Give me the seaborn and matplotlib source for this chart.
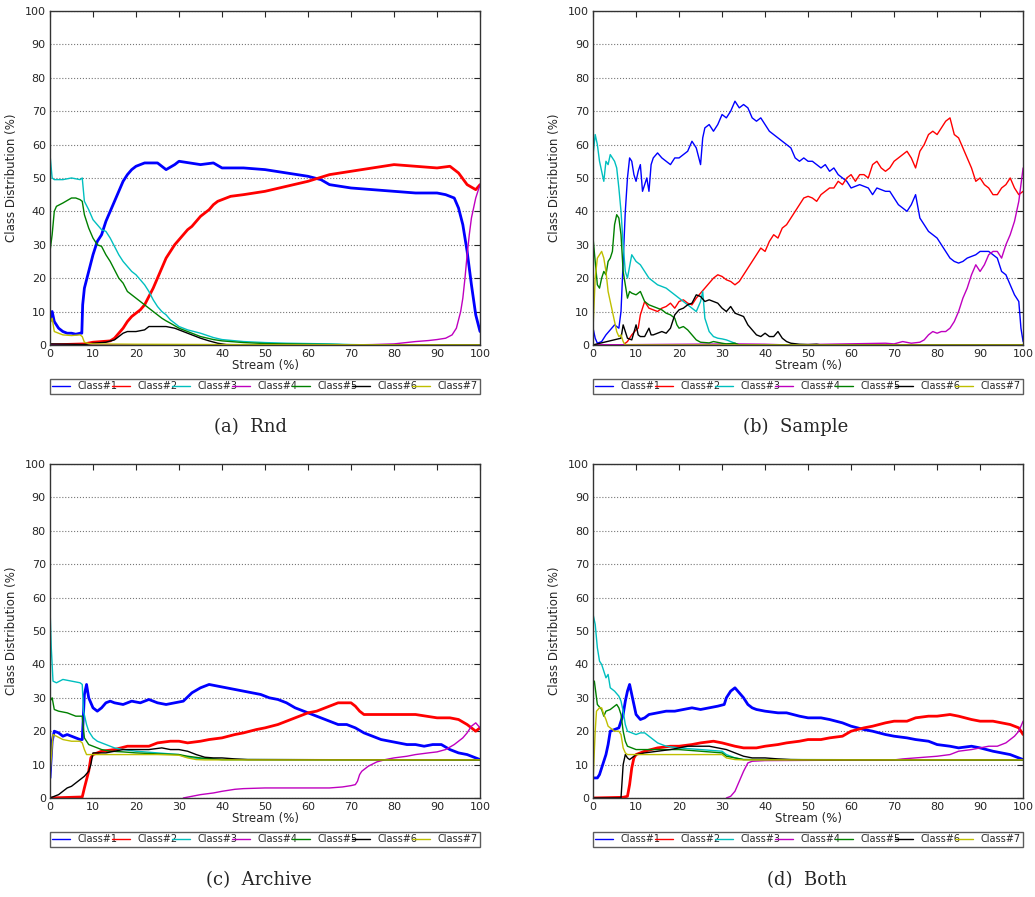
import matplotlib
matplotlib.use("Agg")
import matplotlib.pyplot as plt
import seaborn as sns

# ---- data: (stream %, class distribution %) ----
classes = ["Class#1", "Class#2", "Class#3", "Class#4", "Class#5", "Class#6", "Class#7"]
colors = ["#0000ff", "#ff0000", "#00bfbf", "#bf00bf", "#008000", "#000000", "#bfbf00"]

# (a) Rnd
rnd_c1 = [(0, 7), (0.5, 10), (1, 7), (2, 5), (3, 4), (4, 3.5), (5, 3.5), (6, 3.2), (7, 3.5), (7.4, 3.5),
          (7.6, 12), (8, 17), (9, 22), (10, 27), (11, 31), (12, 33), (13, 37), (14, 40), (15, 43), (16, 46),
          (17, 49), (18, 51), (19, 52.5), (20, 53.5), (22, 54.5), (25, 54.5), (27, 52.5), (29, 54), (30, 55),
          (35, 54), (38, 54.5), (40, 53), (45, 53), (50, 52.5), (55, 51.5), (60, 50.5), (63, 49.5), (65, 48),
          (70, 47), (75, 46.5), (80, 46), (85, 45.5), (90, 45.5), (92, 45), (94, 44), (95, 41), (96, 36),
          (97, 28), (98, 18), (99, 9), (100, 4)]
rnd_c2 = [(0, 0), (8, 0.3), (10, 0.8), (12, 1), (14, 1.2), (15, 2), (16, 3.5), (17, 5), (18, 7), (19, 8.5),
          (20, 9.5), (21, 10.5), (22, 12), (23, 14.5), (24, 17), (25, 20), (26, 23), (27, 26), (28, 28),
          (29, 30), (30, 31.5), (31, 33), (32, 34.5), (33, 35.5), (34, 37), (35, 38.5), (36, 39.5), (37, 40.5),
          (38, 42), (39, 43), (40, 43.5), (42, 44.5), (45, 45), (50, 46), (55, 47.5), (60, 49), (65, 51),
          (70, 52), (75, 53), (80, 54), (85, 53.5), (90, 53), (93, 53.5), (95, 51.5), (97, 48), (99, 46.5),
          (100, 48)]
rnd_c3 = [(0, 57), (0.5, 50), (1, 49.5), (3, 49.5), (5, 50), (7, 49.5), (7.5, 50), (8, 43), (9, 40.5),
          (10, 37.5), (11, 36), (12, 34.5), (13, 34), (14, 32), (15, 29.5), (16, 27), (17, 25), (18, 23.5),
          (19, 22), (20, 21), (21, 19.5), (22, 18), (23, 16), (24, 13.5), (25, 11.5), (26, 10), (27, 9),
          (28, 7.5), (29, 6.5), (30, 5.5), (32, 4.5), (35, 3.5), (38, 2.2), (40, 1.6), (45, 1.0), (50, 0.7),
          (55, 0.5), (60, 0.4), (65, 0.3), (70, 0.1), (75, 0), (100, 0)]
rnd_c4 = [(0, 0), (70, 0), (75, 0.1), (80, 0.3), (85, 1), (88, 1.3), (90, 1.6), (92, 2), (93.5, 3), (94.5, 5),
          (95.5, 10), (96, 14), (96.5, 20), (97, 27), (97.5, 33), (98, 38), (99, 44), (99.5, 46), (100, 48)]
rnd_c5 = [(0, 28), (0.5, 33), (1, 40), (1.5, 41.5), (3, 42.5), (5, 44), (6, 44), (7, 43.5), (7.5, 43),
          (8, 39), (9, 35), (10, 32), (11, 30), (12, 29.5), (13, 27), (14, 25), (15, 22.5), (16, 20),
          (17, 18.5), (18, 16), (19, 15), (20, 14), (21, 13), (22, 12), (23, 11), (24, 10), (25, 9), (26, 8),
          (27, 7.2), (28, 6.5), (30, 5), (32, 4), (35, 2.5), (38, 1.6), (40, 1.2), (45, 0.7), (50, 0.4),
          (60, 0.2), (67, 0.1), (70, 0), (100, 0)]
rnd_c6 = [(0, 0.3), (5, 0.2), (8, 0.1), (10, 0.5), (13, 0.8), (15, 1.5), (16, 2.5), (17, 3.5), (18, 4),
          (20, 4), (22, 4.5), (23, 5.5), (25, 5.5), (27, 5.5), (29, 5), (31, 4), (33, 3), (35, 2), (37, 1.2),
          (39, 0.5), (41, 0.1), (45, 0), (100, 0)]
rnd_c7 = [(0, 6.5), (0.5, 8), (1, 4), (2, 3.5), (3, 3), (5, 2.8), (7, 3), (7.5, 2.5), (8, 0.8), (9, 0.4),
          (10, 0.3), (20, 0.2), (40, 0.1), (100, 0)]

# (b) Sample
smp_c1 = [(0, 5), (0.5, 2), (1, 0.5), (2, 1), (3, 3), (4, 4.5), (5, 6), (6, 5), (6.5, 10), (7, 25), (7.5, 40),
          (8, 50), (8.5, 56), (9, 55), (9.5, 51), (10, 49), (10.5, 52), (11, 54), (11.5, 46), (12, 48),
          (12.5, 50), (13, 46), (13.5, 54), (14, 56), (15, 57.5), (16, 56), (17, 55), (18, 54), (19, 56),
          (20, 56), (21, 57), (22, 58), (23, 61), (24, 59), (25, 54), (25.5, 62), (26, 65), (27, 66), (28, 64),
          (29, 66), (30, 69), (31, 68), (32, 70), (33, 73), (34, 71), (35, 72), (36, 71), (37, 68), (38, 67),
          (39, 68), (40, 66), (41, 64), (42, 63), (43, 62), (44, 61), (45, 60), (46, 59), (47, 56), (48, 55),
          (49, 56), (50, 55), (51, 55), (52, 54), (53, 53), (54, 54), (55, 52), (56, 53), (57, 51), (58, 50),
          (59, 49), (60, 47), (62, 48), (64, 47), (65, 45), (66, 47), (68, 46), (69, 46), (70, 44), (71, 42),
          (72, 41), (73, 40), (74, 42), (75, 45), (76, 38), (77, 36), (78, 34), (79, 33), (80, 32), (81, 30),
          (82, 28), (83, 26), (84, 25), (85, 24.5), (86, 25), (87, 26), (88, 26.5), (89, 27), (90, 28),
          (91, 28), (92, 28), (93, 27), (94, 26), (95, 22), (96, 21), (97, 18), (98, 15), (99, 13), (99.5, 5),
          (100, 1)]
smp_c2 = [(0, 0), (7, 0), (8, 1), (9, 3), (10, 4.5), (10.5, 5), (11, 9), (12, 13), (13, 11), (14, 10.5),
          (15, 10), (16, 11), (17, 11.5), (18, 12.5), (19, 11), (20, 13), (21, 13.5), (22, 12.5), (23, 12),
          (24, 14), (25, 15.5), (26, 17), (27, 18.5), (28, 20), (29, 21), (30, 20.5), (31, 19.5), (32, 19),
          (33, 18), (34, 19), (35, 21), (36, 23), (37, 25), (38, 27), (39, 29), (40, 28), (41, 31), (42, 33),
          (43, 32), (44, 35), (45, 36), (46, 38), (47, 40), (48, 42), (49, 44), (50, 44.5), (51, 44), (52, 43),
          (53, 45), (54, 46), (55, 47), (56, 47), (57, 49), (58, 48), (59, 50), (60, 51), (61, 49), (62, 51),
          (63, 51), (64, 50), (65, 54), (66, 55), (67, 53), (68, 52), (69, 53), (70, 55), (71, 56), (72, 57),
          (73, 58), (74, 56), (75, 53), (76, 58), (77, 60), (78, 63), (79, 64), (80, 63), (81, 65), (82, 67),
          (83, 68), (84, 63), (85, 62), (86, 59), (87, 56), (88, 53), (89, 49), (90, 50), (91, 48), (92, 47),
          (93, 45), (94, 45), (95, 47), (96, 48), (97, 50), (98, 47), (99, 45), (100, 46)]
smp_c3 = [(0, 57), (0.5, 63), (1, 60), (1.5, 55), (2, 52), (2.5, 49), (3, 55), (3.5, 54), (4, 57), (5, 55),
          (5.5, 53), (6, 47), (6.5, 40), (7, 30), (7.5, 22), (8, 20), (9, 27), (10, 25), (11, 24), (12, 22),
          (13, 20), (14, 19), (15, 18), (16, 17.5), (17, 17), (18, 16), (19, 15), (20, 14), (21, 13), (22, 12),
          (23, 11), (24, 10), (25, 13), (25.5, 16), (26, 8), (27, 4), (28, 2.5), (29, 2), (30, 1.8), (31, 1.5),
          (32, 1), (33, 0.5), (34, 0), (100, 0)]
smp_c4 = [(0, 0), (33, 0.3), (40, 0.2), (45, 0), (68, 0.5), (70, 0.3), (72, 1), (74, 0.5), (76, 0.8),
          (77, 1.5), (78, 3), (79, 4), (80, 3.5), (81, 4), (82, 4), (83, 5), (84, 7), (85, 10), (86, 14),
          (87, 17), (88, 21), (89, 24), (90, 22), (91, 24), (92, 27), (93, 28), (94, 28), (95, 26), (96, 30),
          (97, 33), (98, 37), (99, 43), (100, 53)]
smp_c5 = [(0, 32), (0.5, 25), (1, 18), (1.5, 17), (2, 20), (2.5, 22), (3, 21), (3.5, 25), (4, 26), (4.5, 28),
          (5, 36), (5.5, 39), (6, 38), (6.5, 33), (7, 22), (7.5, 18), (8, 14), (8.5, 16), (9, 15.5), (10, 15),
          (11, 16), (12, 13), (13, 12), (14, 11.5), (15, 11), (16, 10.5), (17, 9.5), (18, 9), (19, 8),
          (19.5, 6), (20, 5), (21, 5.5), (22, 4.5), (23, 3), (24, 1.5), (25, 0.8), (27, 0.6), (28, 1),
          (30, 0.5), (31, 0.3), (33, 0.5), (34, 0), (100, 0)]
smp_c6 = [(0, 0), (6.5, 2), (7, 6), (7.5, 4), (8, 2), (9, 1.5), (10, 6), (10.5, 3), (11, 2.5), (12, 2.5),
          (13, 5), (13.5, 3), (14, 3), (15, 3.5), (16, 4), (17, 3.5), (18, 5), (19, 9), (20, 10.5), (21, 11),
          (22, 12), (23, 12.5), (24, 15), (25, 14.5), (26, 13), (27, 13.5), (28, 13), (29, 12.5), (30, 11),
          (31, 10), (32, 11.5), (33, 9.5), (34, 9), (35, 8.5), (36, 6), (37, 4.5), (38, 3), (39, 2.5),
          (40, 3.5), (41, 2.5), (42, 2.5), (43, 4), (44, 2), (45, 1), (46, 0.5), (48, 0.2), (50, 0.1),
          (52, 0.2), (53, 0), (100, 0)]
smp_c7 = [(0, 5), (0.5, 20), (1, 26), (1.5, 27), (2, 28), (2.5, 26), (3, 22), (3.5, 16), (4, 13), (4.5, 10),
          (5, 7), (5.5, 4), (6, 2.5), (6.5, 3), (7, 1), (7.5, 0), (100, 0)]

# (c) Archive
arc_c1 = [(0, 6), (0.5, 17), (1, 20), (2, 19.5), (3, 18.5), (4, 19), (5, 18.5), (6, 18), (7, 17.5),
          (7.5, 17.5), (8, 31), (8.5, 34), (9, 30), (10, 27), (11, 26), (12, 27), (13, 28.5), (14, 29),
          (15, 28.5), (17, 28), (19, 29), (21, 28.5), (23, 29.5), (25, 28.5), (27, 28), (29, 28.5), (31, 29),
          (33, 31.5), (35, 33), (37, 34), (39, 33.5), (41, 33), (43, 32.5), (45, 32), (47, 31.5), (49, 31),
          (51, 30), (53, 29.5), (55, 28.5), (57, 27), (59, 26), (61, 25), (63, 24), (65, 23), (67, 22),
          (69, 22), (71, 21), (73, 19.5), (75, 18.5), (77, 17.5), (79, 17), (81, 16.5), (83, 16), (85, 16),
          (87, 15.5), (89, 16), (91, 16), (93, 14.5), (95, 13.5), (97, 13), (99, 12), (100, 11.5)]
arc_c2 = [(0, 0), (7.5, 0.3), (8, 3), (9, 8), (9.5, 12), (10, 13), (12, 14), (15, 14.5), (18, 15.5),
          (20, 15.5), (23, 15.5), (25, 16.5), (28, 17), (30, 17), (32, 16.5), (35, 17), (37, 17.5), (40, 18),
          (43, 19), (45, 19.5), (48, 20.5), (50, 21), (53, 22), (55, 23), (58, 24.5), (60, 25.5), (62, 26),
          (65, 27.5), (67, 28.5), (70, 28.5), (71, 27.5), (72, 26), (73, 25), (75, 25), (80, 25), (85, 25),
          (90, 24), (93, 24), (95, 23.5), (97, 22), (98, 21), (99, 20), (100, 21)]
arc_c3 = [(0, 57), (0.3, 45), (0.7, 35), (1.5, 34.5), (3, 35.5), (5, 35), (7, 34.5), (7.5, 34), (7.8, 26),
          (8.5, 22), (9, 20), (10, 18), (11, 17), (12, 16.5), (13, 16), (14, 15.5), (15, 15), (17, 14.5),
          (20, 14), (25, 13.5), (30, 13), (31, 12.5), (33, 12), (35, 11.8), (40, 11.5), (100, 11.4)]
arc_c4 = [(31, 0), (33, 0.5), (35, 1), (38, 1.5), (40, 2), (43, 2.6), (45, 2.8), (50, 3), (60, 3), (65, 3),
          (68, 3.3), (70, 3.7), (71, 4), (71.5, 5), (72, 7), (72.5, 8), (74, 9.5), (76, 10.8), (78, 11.5),
          (80, 12), (83, 12.5), (85, 13), (88, 13.5), (90, 13.8), (92, 14.5), (94, 16), (96, 18), (97, 19.5),
          (98, 21.5), (99, 22.5), (100, 21)]
arc_c5 = [(0, 29), (0.5, 30), (1, 26.5), (2, 26), (4, 25.5), (6, 24.5), (7.5, 24.5), (8, 18), (9, 16),
          (10, 15.5), (11, 15), (12, 14.5), (14, 14), (17, 13.8), (20, 13.5), (25, 13.2), (30, 13),
          (32, 12.5), (35, 12), (38, 11.7), (40, 11.5), (100, 11.4)]
arc_c6 = [(0, 0), (1, 0.5), (2, 1), (3, 2), (4, 3), (5, 3.5), (6, 4.5), (7, 5.5), (7.5, 6), (8, 6.5), (9, 8),
          (9.5, 10), (10, 13.5), (11, 13.5), (13, 13.5), (15, 14), (17, 14.5), (20, 14.5), (23, 14.5),
          (26, 15), (28, 14.5), (30, 14.5), (32, 14), (34, 13), (36, 12.2), (38, 12), (40, 12), (43, 11.7),
          (46, 11.5), (100, 11.4)]
arc_c7 = [(0, 7), (0.3, 12), (0.7, 19), (1.5, 18.5), (3, 17.5), (5, 17), (7, 17), (7.5, 16.5), (8, 14.5),
          (8.5, 13), (10, 13), (15, 13), (20, 13), (25, 13), (30, 12.8), (32, 12), (34, 11.5), (36, 11.4),
          (100, 11.4)]

# (d) Both
bth_c1 = [(0, 6), (1, 6), (1.5, 7), (2, 9), (3, 13), (3.5, 16), (4, 20), (5, 20.5), (6, 21), (6.5, 23),
          (7, 25), (7.5, 29), (8, 32), (8.5, 34), (9, 31), (9.5, 28), (10, 25), (11, 23.5), (12, 24), (13, 25),
          (15, 25.5), (17, 26), (19, 26), (21, 26.5), (23, 27), (25, 26.5), (27, 27), (29, 27.5), (30.5, 28),
          (31, 30), (32, 32), (33, 33), (34, 31.5), (35, 30), (36, 28), (37, 27), (38, 26.5), (40, 26),
          (43, 25.5), (45, 25.5), (48, 24.5), (50, 24), (53, 24), (55, 23.5), (58, 22.5), (60, 21.5),
          (63, 20.5), (65, 20), (68, 19), (70, 18.5), (73, 18), (75, 17.5), (78, 17), (80, 16), (83, 15.5),
          (85, 15), (88, 15.5), (90, 15), (93, 14), (95, 13.5), (97, 13), (98, 12.5), (99, 12), (100, 11.5)]
bth_c2 = [(0, 0), (7, 0.2), (8, 0.5), (8.5, 4), (9, 9), (9.5, 12), (10, 13), (12, 14), (15, 15), (18, 15.5),
          (20, 15.5), (23, 16), (25, 16.5), (28, 17), (30, 16.5), (33, 15.5), (35, 15), (38, 15), (40, 15.5),
          (43, 16), (45, 16.5), (48, 17), (50, 17.5), (53, 17.5), (55, 18), (58, 18.5), (60, 20), (63, 21),
          (65, 21.5), (68, 22.5), (70, 23), (73, 23), (75, 24), (78, 24.5), (80, 24.5), (83, 25), (85, 24.5),
          (88, 23.5), (90, 23), (93, 23), (95, 22.5), (97, 22), (99, 21), (100, 19)]
bth_c3 = [(0, 55), (0.5, 52), (1, 45), (1.5, 41), (2, 40), (2.5, 38), (3, 36), (3.5, 37), (4, 33), (5, 32),
          (6, 30.5), (6.5, 29), (7, 26), (7.5, 22), (8, 20), (9, 19.5), (10, 19), (11, 19.5), (12, 19.5),
          (13, 18.5), (14, 17.5), (15, 16.5), (17, 15.5), (20, 15), (25, 14.5), (30, 14), (31, 13), (33, 12),
          (35, 11.5), (100, 11.4)]
bth_c4 = [(31, 0), (32, 0.5), (33, 2), (34, 5), (35, 8), (36, 10.5), (37, 11), (40, 11.2), (70, 11.4),
          (72, 11.7), (75, 12), (78, 12.3), (80, 12.5), (83, 13), (85, 14), (88, 14.5), (90, 15), (92, 15.5),
          (94, 15.5), (96, 16.5), (98, 18.5), (99, 20), (100, 23)]
bth_c5 = [(0, 34), (0.3, 35), (1, 28), (2, 26.5), (2.5, 24.5), (3, 26), (4, 26.5), (5, 27.5), (5.5, 28),
          (6, 27), (6.5, 25), (7, 20), (7.5, 17), (8, 15.5), (9, 15), (10, 14.5), (12, 14.5), (15, 14.5),
          (18, 14.5), (20, 14.5), (25, 14), (30, 13.5), (31, 12.5), (33, 12), (35, 11.5), (100, 11.4)]
bth_c6 = [(0, 0), (6.5, 0), (7, 10), (7.5, 13), (8, 12), (8.5, 11.5), (9, 12), (10, 13), (12, 13.5),
          (15, 14), (18, 14.5), (20, 15), (22, 15.5), (25, 15.5), (27, 15.5), (29, 15), (31, 14.5), (33, 13.5),
          (35, 12.5), (37, 12), (40, 12), (43, 11.7), (46, 11.5), (53, 11.4), (100, 11.4)]
bth_c7 = [(0, 5), (0.5, 20), (0.8, 26), (1.5, 27), (2, 27), (2.5, 25), (3, 23.5), (3.5, 21.5), (4, 21),
          (5, 20), (6, 20), (6.5, 19), (7, 15), (7.5, 13.5), (8, 13), (10, 13), (20, 13), (30, 13), (31, 12),
          (33, 11.5), (35, 11.4), (100, 11.4)]

panels = [
    ("(a)  Rnd", [rnd_c1, rnd_c2, rnd_c3, rnd_c4, rnd_c5, rnd_c6, rnd_c7]),
    ("(b)  Sample", [smp_c1, smp_c2, smp_c3, smp_c4, smp_c5, smp_c6, smp_c7]),
    ("(c)  Archive", [arc_c1, arc_c2, arc_c3, arc_c4, arc_c5, arc_c6, arc_c7]),
    ("(d)  Both", [bth_c1, bth_c2, bth_c3, bth_c4, bth_c5, bth_c6, bth_c7]),
]

sns.set_style("white")
plt.rcParams['font.family'] = ['DejaVu Sans']
plt.rcParams['xtick.direction'] = 'in'
plt.rcParams['ytick.direction'] = 'in'

fig = plt.figure(figsize=(10.35, 8.97), dpi=100)
ax_w, ax_h = 0.4155, 0.3722
positions = [(0.0483, 0.6155), (0.5730, 0.6155), (0.0483, 0.1104), (0.5730, 0.1104)]
caption_xy = [(0.2425, 0.524), (0.769, 0.524), (0.250, 0.019), (0.780, 0.019)]

for k, ((caption, series), (left, bottom)) in enumerate(zip(panels, positions)):
    ax = fig.add_axes([left, bottom, ax_w, ax_h])
    for i, pts in enumerate(series):
        xs = [p[0] for p in pts]
        ys = [p[1] for p in pts]
        noisy = i in (0, 1) and k != 1
        sns.lineplot(x=xs, y=ys, ax=ax, color=colors[i], lw=2.0 if noisy else 1.0,
                     label=classes[i], sort=False, estimator=None)
    ax.set_xlim(0, 100)
    ax.set_ylim(0, 100)
    ax.set_xticks(range(0, 101, 10))
    ax.set_yticks(range(0, 101, 10))
    ax.tick_params(labelsize=8, top=True, right=True, length=4, width=0.8, pad=3)
    ax.yaxis.grid(True, linestyle=':', color='#777777', lw=0.8)
    ax.xaxis.grid(False)
    for s in ax.spines.values():
        s.set_color('#333333')
        s.set_linewidth(1.0)
    ax.set_xlabel("Stream (%)", fontsize=8.5, labelpad=0)
    ax.set_ylabel("Class Distribution (%)", fontsize=8.5, labelpad=5)
    leg = ax.legend(loc='upper left', bbox_to_anchor=(0, -0.102, 1, 0), mode='expand', ncol=7,
                    fontsize=7, handlelength=1.8, handletextpad=0.8, columnspacing=0.0,
                    borderpad=0.25, borderaxespad=0, fancybox=False, frameon=True)
    leg.get_frame().set_edgecolor('#333333')
    leg.get_frame().set_linewidth(1.0)
    for line in leg.get_lines():
        line.set_linewidth(1.0)
    cx, cy = caption_xy[k]
    fig.text(cx, cy, caption, ha='center', va='center', fontsize=13, family=['DejaVu Serif'])

fig.savefig("out.png", dpi=100)
